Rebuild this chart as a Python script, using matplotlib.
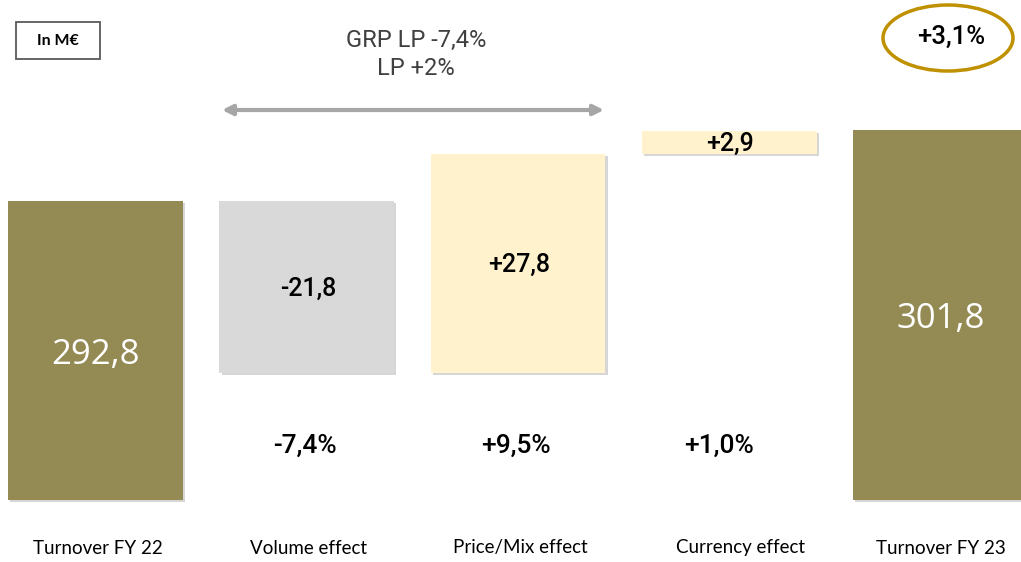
import matplotlib
matplotlib.use("Agg")
import matplotlib.pyplot as plt
import matplotlib.patheffects as pe
from matplotlib.patches import Ellipse, Rectangle
import matplotlib.transforms as mtransforms

# data
categories = ["Turnover FY 22", "Volume effect", "Price/Mix effect", "Currency effect", "Turnover FY 23"]
start_value = 292.8
changes = [-21.8, 27.8, 2.9]
end_value = 301.8
value_labels = ["292,8", "-21,8", "+27,8", "+2,9", "301,8"]
pct_labels = ["", "-7,4%", "+9,5%", "+1,0%", ""]
total_growth = "+3,1%"
note_lines = ["GRP LP -7,4%", "LP +2%"]

OLIVE = "#948A54"
GREY = "#D9D9D9"
CREAM = "#FFF2CC"
GOLD = "#BF9000"

axis_base = 254.9  # truncated baseline of the total bars

# small horizontal nudges for text rows (x units)
pct_dx = [0, -0.01, -0.01, -0.05, 0]
cat_dx = [0.01, 0.01, 0.01, 0.055, 0.0]

fig = plt.figure(figsize=(10.21, 5.62), dpi=100)
ax = fig.add_axes([0, 0, 1, 1])
ax.set_xlim(-0.452, 4.381)
ax.set_ylim(247.0, 318.3)
ax.axis("off")

# waterfall bottoms / heights
bottoms, heights, colors = [axis_base], [start_value - axis_base], [OLIVE]
running = start_value
for c in changes:
    if c < 0:
        bottoms.append(running + c)
        heights.append(-c)
        colors.append(GREY)
    else:
        bottoms.append(running)
        heights.append(c)
        colors.append(CREAM)
    running += c
bottoms.append(axis_base)
heights.append(end_value - axis_base)
colors.append(OLIVE)

shadow = [pe.SimplePatchShadow(offset=(1.6, -1.6), shadow_rgbFace="#8C8C8C", alpha=0.35), pe.Normal()]
bars = ax.bar(range(5), heights, bottom=bottoms, width=0.828, color=colors, zorder=2)
for b in bars:
    b.set_path_effects(shadow)

# value labels inside bars
for i, (lab, b, h) in enumerate(zip(value_labels, bottoms, heights)):
    if i in (0, 4):
        ax.text(i, b + h / 2 - 0.55, lab, ha="center", va="center", color="white",
                fontsize=25, family="Open Sans", zorder=3)
    else:
        ax.text(i + 0.005, b + h / 2 - 0.2, lab, ha="center", va="center", color="black",
                fontsize=18, family="Roboto", fontweight="medium", zorder=3)

# percentage rows
trans_xfig = mtransforms.blended_transform_factory(ax.transData, fig.transFigure)
for i, lab in enumerate(pct_labels):
    if lab:
        ax.text(i + pct_dx[i], 1 - 446 / 562, lab, transform=trans_xfig, ha="center", va="center",
                fontsize=19, family="Roboto", fontweight="medium")

# category labels
for i, lab in enumerate(categories):
    ax.text(i + cat_dx[i], 1 - 548 / 562, lab, transform=trans_xfig, ha="center", va="center",
            fontsize=13.5, family="Lato")

# "In M€" box
fig.patches.append(Rectangle((16 / 1021, 1 - 59 / 562), 84 / 1021, 37 / 562,
                             transform=fig.transFigure, fc="none", ec="#595959", lw=1.3))
fig.text(58 / 1021, 1 - 41 / 562, "In M€", ha="center", va="center", fontsize=11.5,
         family="Lato", fontweight="bold")

# note and arrow
fig.text(416 / 1021, 1 - 40 / 562, note_lines[0], ha="center", va="center",
         fontsize=17, family="Roboto", color="#404040")
fig.text(416 / 1021, 1 - 68 / 562, note_lines[1], ha="center", va="center",
         fontsize=17, family="Roboto", color="#404040")
ax.annotate("", xy=(604 / 1021, 1 - 110 / 562), xytext=(222 / 1021, 1 - 110 / 562),
            xycoords="figure fraction", textcoords="figure fraction",
            arrowprops=dict(arrowstyle="<|-|>,head_length=0.6,head_width=0.3",
                            color="#A6A6A6", lw=3, shrinkA=0, shrinkB=0))

# growth ellipse
fig.patches.append(Ellipse((948 / 1021, 1 - 38 / 562), 130 / 1021, 66 / 562,
                           transform=fig.transFigure, fc="none", ec=GOLD, lw=2.5))
fig.text(951 / 1021, 1 - 37 / 562, total_growth, ha="center", va="center",
         fontsize=18.5, family="Roboto", fontweight="medium")

fig.savefig("out.png", dpi=100)
